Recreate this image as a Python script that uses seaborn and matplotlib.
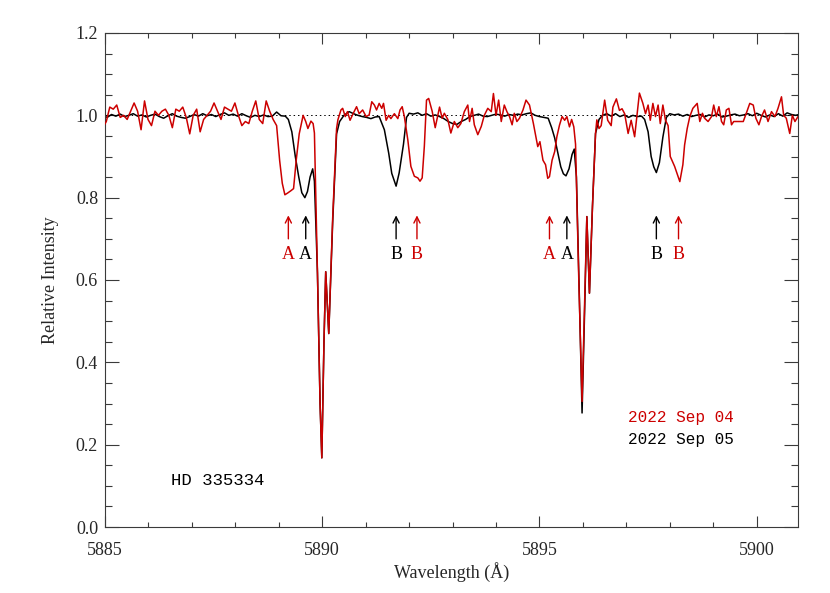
import numpy as np
import pandas as pd
import matplotlib
matplotlib.use("Agg")
import matplotlib.pyplot as plt
import seaborn as sns
from matplotlib.ticker import MultipleLocator

# Spectrum 2022 Sep 04 (red)
wl_sep04 = [
    5884.95, 5885.03, 5885.11, 5885.19, 5885.27, 5885.35, 5885.43, 5885.51, 5885.59, 5885.67,
    5885.75, 5885.83, 5885.91, 5885.99, 5886.07, 5886.15, 5886.23, 5886.31, 5886.39, 5886.47,
    5886.55, 5886.63, 5886.71, 5886.79, 5886.87, 5886.95, 5887.03, 5887.11, 5887.19, 5887.27,
    5887.35, 5887.43, 5887.51, 5887.59, 5887.67, 5887.75, 5887.83, 5887.91, 5887.99, 5888.07,
    5888.15, 5888.23, 5888.31, 5888.39, 5888.47, 5888.55, 5888.63, 5888.71, 5888.79, 5888.87,
    5888.95, 5889.02, 5889.08, 5889.14, 5889.20, 5889.28, 5889.34, 5889.40, 5889.47, 5889.56,
    5889.62, 5889.67, 5889.74, 5889.79, 5889.82, 5889.89, 5889.95, 5889.99, 5890.04, 5890.08,
    5890.15, 5890.24, 5890.33, 5890.36, 5890.43, 5890.47, 5890.53, 5890.58, 5890.64, 5890.71,
    5890.79, 5890.85, 5890.93, 5891.01, 5891.08, 5891.14, 5891.20, 5891.25, 5891.31, 5891.37,
    5891.41, 5891.47, 5891.53, 5891.58, 5891.66, 5891.74, 5891.79, 5891.84, 5891.89, 5891.97,
    5892.04, 5892.12, 5892.20, 5892.25, 5892.30, 5892.35, 5892.40, 5892.45, 5892.53, 5892.60,
    5892.70, 5892.76, 5892.81, 5892.89, 5892.96, 5893.04, 5893.12, 5893.19, 5893.27, 5893.35,
    5893.39, 5893.45, 5893.50, 5893.58, 5893.66, 5893.73, 5893.81, 5893.89, 5893.94, 5894.00,
    5894.06, 5894.12, 5894.19, 5894.25, 5894.31, 5894.37, 5894.42, 5894.48, 5894.54, 5894.62,
    5894.69, 5894.77, 5894.86, 5894.96, 5895.01, 5895.08, 5895.14, 5895.19, 5895.23, 5895.29,
    5895.35, 5895.40, 5895.46, 5895.52, 5895.58, 5895.63, 5895.69, 5895.74, 5895.79, 5895.83,
    5895.90, 5895.98, 5896.04, 5896.09, 5896.15, 5896.22, 5896.29, 5896.32, 5896.37, 5896.42,
    5896.50, 5896.57, 5896.65, 5896.69, 5896.77, 5896.84, 5896.90, 5896.96, 5897.04, 5897.11,
    5897.19, 5897.24, 5897.30, 5897.38, 5897.44, 5897.50, 5897.55, 5897.61, 5897.67, 5897.73,
    5897.78, 5897.84, 5897.90, 5897.96, 5898.01, 5898.11, 5898.23, 5898.30, 5898.34, 5898.40,
    5898.46, 5898.53, 5898.63, 5898.69, 5898.75, 5898.80, 5898.88, 5898.96, 5899.01, 5899.07,
    5899.13, 5899.19, 5899.24, 5899.30, 5899.36, 5899.42, 5899.47, 5899.57, 5899.69, 5899.76,
    5899.84, 5899.92, 5899.98, 5900.05, 5900.11, 5900.18, 5900.26, 5900.34, 5900.42, 5900.49,
    5900.57, 5900.62, 5900.68, 5900.76, 5900.82, 5900.88, 5900.95,
]
flux_sep04 = [
    0.970, 0.985, 1.020, 1.015, 1.025, 0.995, 1.000, 0.990, 1.010, 1.030,
    1.010, 0.965, 1.035, 0.990, 0.975, 1.010, 1.000, 1.010, 1.015, 1.000,
    0.970, 1.015, 1.010, 1.020, 0.995, 0.955, 1.000, 1.015, 0.960, 0.990,
    1.000, 1.010, 1.030, 1.010, 0.990, 1.020, 1.015, 1.010, 1.030, 1.000,
    0.975, 0.985, 0.980, 1.010, 1.035, 0.990, 0.980, 1.035, 1.010, 0.990,
    0.975, 0.890, 0.835, 0.807, 0.811, 0.817, 0.822, 0.890, 0.955, 1.000,
    0.985, 0.968, 0.986, 0.980, 0.957, 0.617, 0.300, 0.168, 0.450, 0.620,
    0.470, 0.750, 0.968, 0.989, 1.013, 1.017, 0.997, 1.009, 0.988, 1.004,
    1.021, 1.004, 1.013, 0.997, 1.001, 1.033, 1.025, 1.013, 1.029, 1.017,
    1.029, 0.988, 1.000, 0.992, 1.004, 0.992, 1.013, 1.021, 0.997, 0.940,
    0.876, 0.852, 0.848, 0.840, 0.848, 0.925, 1.037, 1.041, 1.010, 0.970,
    1.020, 0.993, 1.005, 0.990, 0.957, 0.985, 0.970, 0.980, 1.009, 1.025,
    0.985, 1.017, 0.977, 0.953, 0.973, 1.000, 1.017, 1.009, 1.053, 1.000,
    1.037, 0.985, 1.025, 1.009, 0.997, 0.977, 1.005, 0.985, 0.993, 1.013,
    1.037, 1.025, 0.980, 0.924, 0.936, 0.891, 0.880, 0.847, 0.851, 0.891,
    0.912, 0.948, 0.976, 0.997, 0.988, 0.997, 0.972, 0.990, 0.972, 0.930,
    0.620, 0.305, 0.550, 0.754, 0.568, 0.780, 0.956, 0.989, 0.968, 0.975,
    1.037, 0.988, 0.975, 1.020, 1.040, 1.012, 1.016, 1.004, 0.956, 0.988,
    0.948, 0.997, 1.054, 1.029, 1.004, 1.025, 0.988, 1.029, 0.997, 1.025,
    0.980, 1.025, 0.988, 0.975, 0.900, 0.876, 0.839, 0.880, 0.928, 0.968,
    0.997, 1.017, 1.029, 0.985, 1.005, 0.993, 0.985, 0.997, 1.025, 0.997,
    1.021, 0.985, 0.977, 1.013, 1.017, 0.977, 0.985, 0.985, 0.985, 1.005,
    1.029, 1.025, 0.993, 0.977, 0.997, 1.013, 0.985, 1.009, 0.997, 1.017,
    1.045, 1.000, 0.993, 0.956, 1.000, 0.985, 0.997,
]

# Spectrum 2022 Sep 05 (black)
wl_sep05 = [
    5884.95, 5885.05, 5885.15, 5885.25, 5885.35, 5885.45, 5885.55, 5885.65, 5885.75, 5885.85,
    5885.95, 5886.05, 5886.15, 5886.25, 5886.35, 5886.45, 5886.55, 5886.65, 5886.75, 5886.85,
    5886.95, 5887.05, 5887.15, 5887.25, 5887.35, 5887.45, 5887.55, 5887.65, 5887.75, 5887.85,
    5887.95, 5888.05, 5888.15, 5888.25, 5888.35, 5888.45, 5888.55, 5888.65, 5888.75, 5888.85,
    5888.95, 5889.05, 5889.15, 5889.22, 5889.30, 5889.38, 5889.46, 5889.53, 5889.60, 5889.66,
    5889.72, 5889.78, 5889.82, 5889.89, 5889.95, 5889.99, 5890.04, 5890.08, 5890.15, 5890.24,
    5890.33, 5890.40, 5890.50, 5890.62, 5890.72, 5890.82, 5890.92, 5891.02, 5891.12, 5891.22,
    5891.31, 5891.43, 5891.53, 5891.60, 5891.70, 5891.77, 5891.87, 5891.94, 5892.00, 5892.10,
    5892.20, 5892.30, 5892.40, 5892.50, 5892.60, 5892.70, 5892.80, 5892.90, 5893.00, 5893.10,
    5893.20, 5893.30, 5893.40, 5893.50, 5893.60, 5893.70, 5893.80, 5893.90, 5894.00, 5894.10,
    5894.20, 5894.30, 5894.40, 5894.50, 5894.60, 5894.70, 5894.80, 5894.90, 5895.00, 5895.10,
    5895.20, 5895.28, 5895.35, 5895.42, 5895.49, 5895.55, 5895.61, 5895.68, 5895.75, 5895.80,
    5895.85, 5895.92, 5895.98, 5896.04, 5896.09, 5896.15, 5896.22, 5896.29, 5896.37, 5896.45,
    5896.55, 5896.65, 5896.75, 5896.85, 5896.95, 5897.05, 5897.15, 5897.25, 5897.35, 5897.42,
    5897.50, 5897.57, 5897.63, 5897.69, 5897.76, 5897.84, 5897.92, 5898.00, 5898.10, 5898.20,
    5898.30, 5898.40, 5898.50, 5898.60, 5898.70, 5898.80, 5898.90, 5899.00, 5899.10, 5899.20,
    5899.30, 5899.40, 5899.50, 5899.60, 5899.70, 5899.80, 5899.90, 5900.00, 5900.10, 5900.20,
    5900.30, 5900.40, 5900.50, 5900.60, 5900.70, 5900.80, 5900.90, 5901.00,
]
flux_sep05 = [
    1.000, 0.995, 1.002, 0.998, 1.003, 0.997, 1.000, 1.004, 0.998, 1.001,
    0.996, 1.000, 1.003, 0.997, 0.993, 0.999, 1.004, 0.998, 0.995, 0.993,
    0.997, 1.002, 0.998, 1.004, 0.999, 1.002, 0.997, 1.002, 1.006, 1.000,
    1.003, 0.998, 1.004, 0.999, 0.995, 1.000, 0.997, 1.001, 0.997, 0.998,
    1.008, 0.999, 0.998, 0.990, 0.960, 0.900, 0.850, 0.812, 0.800, 0.815,
    0.850, 0.870, 0.840, 0.617, 0.300, 0.168, 0.450, 0.620, 0.470, 0.740,
    0.955, 0.985, 1.000, 1.009, 1.004, 1.000, 0.997, 0.995, 0.992, 0.996,
    0.997, 0.965, 0.908, 0.859, 0.828, 0.860, 0.930, 0.995, 1.005, 1.003,
    1.006, 1.000, 1.004, 0.998, 1.001, 0.997, 0.992, 0.985, 0.980, 0.978,
    0.985, 0.990, 0.997, 1.000, 1.003, 0.998, 0.997, 1.000, 1.003, 1.001,
    0.998, 1.002, 1.000, 1.003, 1.001, 1.004, 1.006, 1.000, 0.997, 0.995,
    0.993, 0.970, 0.945, 0.910, 0.875, 0.858, 0.853, 0.870, 0.905, 0.918,
    0.850, 0.550, 0.277, 0.530, 0.754, 0.568, 0.780, 0.956, 0.990, 1.000,
    1.004, 0.998, 1.004, 0.997, 1.001, 0.995, 1.000, 0.997, 0.998, 0.990,
    0.960, 0.900, 0.875, 0.861, 0.885, 0.947, 0.995, 1.004, 1.001, 1.003,
    0.998, 1.002, 0.997, 1.000, 1.002, 0.996, 1.001, 0.999, 1.003, 0.996,
    0.998, 1.001, 1.003, 0.999, 1.001, 1.004, 0.999, 1.005, 1.000, 0.996,
    1.001, 0.997, 1.004, 0.998, 1.006, 1.002, 1.000, 1.003,
]

# Component markers (wavelength, label, colour)
mark_wl = [5889.22, 5889.62, 5891.70, 5892.18, 5895.23, 5895.63, 5897.69, 5898.20]
mark_lab = ["A", "A", "B", "B", "A", "A", "B", "B"]
mark_col = ["#cc0000", "black", "black", "#cc0000", "#cc0000", "black", "black", "#cc0000"]

RED = "#cc0000"
AXC = "#3a3a3a"

sns.set_style("ticks")
plt.rcParams["font.family"] = ["Liberation Serif", "DejaVu Serif"]

df04 = pd.DataFrame({"wl": wl_sep04, "flux": flux_sep04})
df05 = pd.DataFrame({"wl": wl_sep05, "flux": flux_sep05})

fig = plt.figure(figsize=(8.3, 5.93), dpi=100)
ax = fig.add_axes([105 / 830, 1 - 527 / 593, 693 / 830, 494 / 593])

ax.axhline(1.0, color="black", lw=0.7, ls=(0, (1.5, 3)), zorder=1)
sns.lineplot(data=df05, x="wl", y="flux", ax=ax, color="black", lw=1.1,
             sort=False, estimator=None, zorder=2)
sns.lineplot(data=df04, x="wl", y="flux", ax=ax, color=RED, lw=1.1,
             sort=False, estimator=None, zorder=3)

for w, lab, c in zip(mark_wl, mark_lab, mark_col):
    ax.annotate("", xy=(w, 0.757), xytext=(w, 0.700),
                arrowprops=dict(arrowstyle="->", color=c, lw=1.0,
                                shrinkA=0, shrinkB=0, mutation_scale=11))
    ax.text(w, 0.663, lab, color=c, ha="center", va="center", fontsize=13)

ax.text(5897.03, 0.265, "2022 Sep 04", color=RED, fontsize=11.5,
        family="Liberation Mono", va="center", ha="left")
ax.text(5897.03, 0.212, "2022 Sep 05", color="black", fontsize=11.5,
        family="Liberation Mono", va="center", ha="left")
ax.text(5886.52, 0.112, "HD 335334", color="black", fontsize=12.5,
        family="Liberation Mono", va="center", ha="left")

ax.set_xlim(5885, 5900.95)
ax.set_ylim(0.0, 1.2)
ax.xaxis.set_major_locator(MultipleLocator(5))
ax.xaxis.set_minor_locator(MultipleLocator(1))
ax.yaxis.set_major_locator(MultipleLocator(0.2))
ax.yaxis.set_minor_locator(MultipleLocator(0.05))
ax.yaxis.set_major_formatter(matplotlib.ticker.FormatStrFormatter("%.1f"))

ax.tick_params(axis="both", which="both", direction="in", top=True, right=True,
               color=AXC, width=0.8, labelsize=13)
ax.tick_params(axis="x", which="major", length=7.6, pad=11)
ax.tick_params(axis="x", which="minor", length=3.6)
ax.tick_params(axis="y", which="major", length=10.4, pad=5)
ax.tick_params(axis="y", which="minor", length=5)
for sp in ax.spines.values():
    sp.set_color(AXC)
    sp.set_linewidth(0.8)

ax.set_xlabel("Wavelength (Å)", fontsize=13, labelpad=2)
ax.set_ylabel("Relative Intensity", fontsize=13, labelpad=12)

fig.savefig("out.png", dpi=100)
